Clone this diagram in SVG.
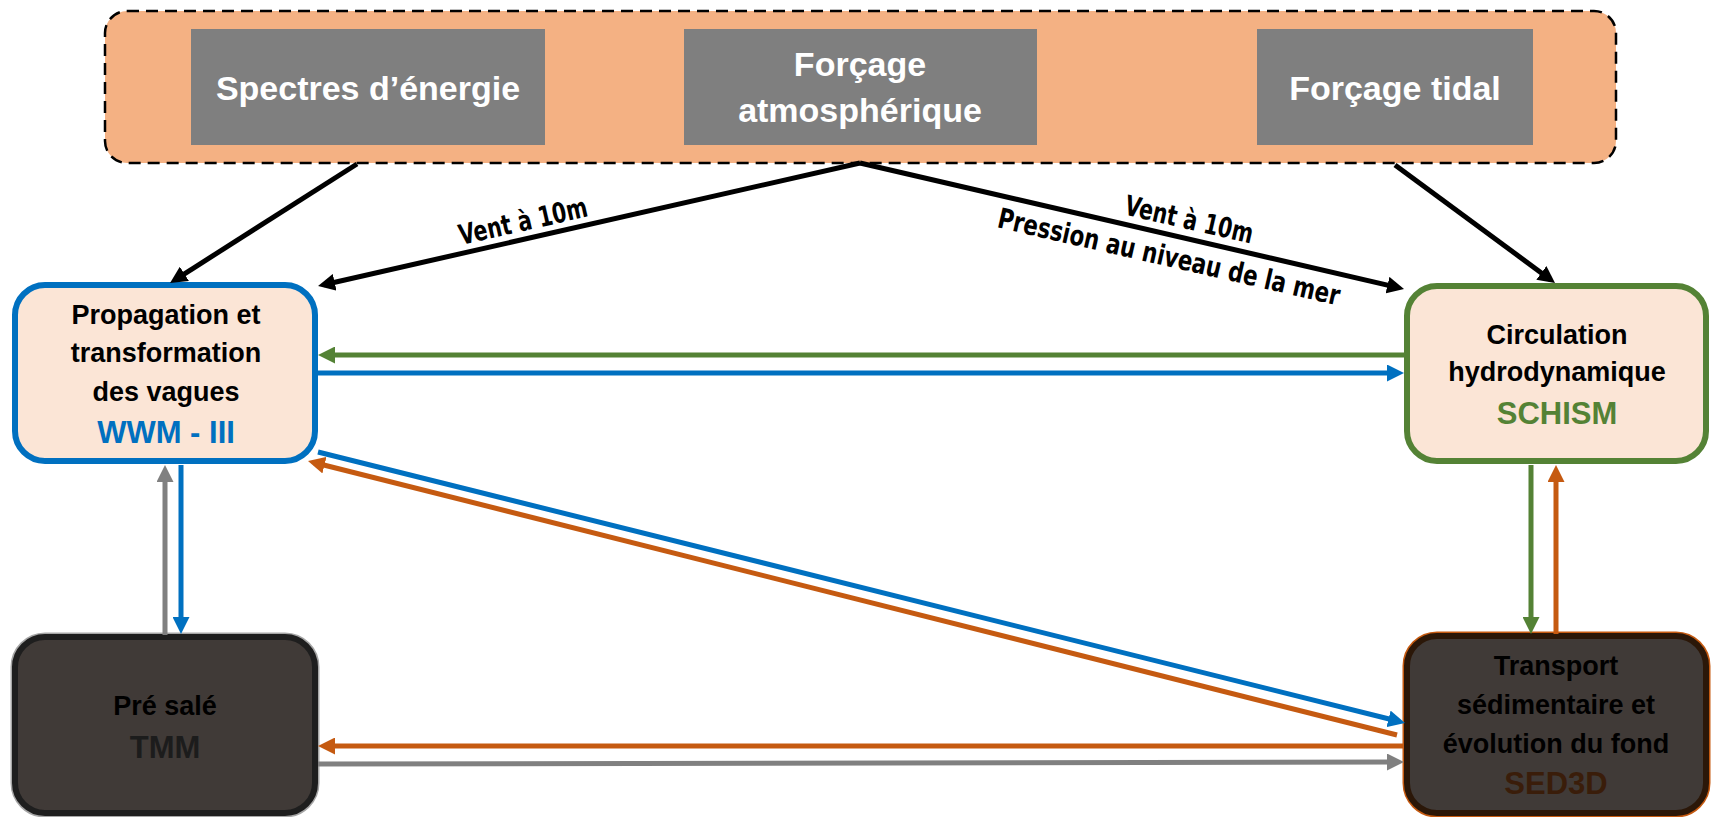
<svg xmlns="http://www.w3.org/2000/svg" width="1715" height="817" viewBox="0 0 1715 817">
<style>
.src{fill:#7F7F7F}
.srct{font-family:"Liberation Sans",Arial,sans-serif;font-weight:bold;font-size:34px;fill:#FFFFFF;text-anchor:middle}
.nt{font-family:"Liberation Sans",Arial,sans-serif;font-weight:bold;font-size:27px;fill:#000;text-anchor:middle}
.mt{font-family:"Liberation Sans",Arial,sans-serif;font-weight:bold;font-size:31px;text-anchor:middle}
.lbl{font-family:"DejaVu Sans Condensed","DejaVu Sans",sans-serif;font-stretch:condensed;font-weight:bold;font-size:28px;fill:#000;text-anchor:middle}
.k{stroke:#000;stroke-width:5;fill:none}
.b{stroke:#0070C0;stroke-width:5;fill:none}
.g{stroke:#548235;stroke-width:5;fill:none}
.o{stroke:#C55A11;stroke-width:5;fill:none}
.y{stroke:#808080;stroke-width:5;fill:none}
</style>
<defs>
<marker id="ak" markerUnits="userSpaceOnUse" markerWidth="17" markerHeight="17" refX="11" refY="8.5" orient="auto"><path d="M0,0 L17,8.5 L0,17 z" fill="#000"/></marker>
<marker id="ab" markerUnits="userSpaceOnUse" markerWidth="17" markerHeight="17" refX="11" refY="8.5" orient="auto"><path d="M0,0 L17,8.5 L0,17 z" fill="#0070C0"/></marker>
<marker id="ag" markerUnits="userSpaceOnUse" markerWidth="17" markerHeight="17" refX="11" refY="8.5" orient="auto"><path d="M0,0 L17,8.5 L0,17 z" fill="#548235"/></marker>
<marker id="ao" markerUnits="userSpaceOnUse" markerWidth="17" markerHeight="17" refX="11" refY="8.5" orient="auto"><path d="M0,0 L17,8.5 L0,17 z" fill="#C55A11"/></marker>
<marker id="ay" markerUnits="userSpaceOnUse" markerWidth="17" markerHeight="17" refX="11" refY="8.5" orient="auto"><path d="M0,0 L17,8.5 L0,17 z" fill="#808080"/></marker>
</defs>
<rect width="1715" height="817" fill="#FFFFFF"/>

<g id="forcages">
<rect x="105" y="11" width="1511" height="152" rx="22" fill="#F4B183" stroke="#000" stroke-width="2.5" stroke-dasharray="12 7"/>
</g>
<g id="spectres">
<rect class="src" x="191" y="29" width="354" height="116"/>
<text class="srct" x="368" y="100">Spectres d’énergie</text>
</g>
<g id="atmos">
<rect class="src" x="684" y="29" width="353" height="116"/>
<text class="srct" x="860" y="76">Forçage</text>
<text class="srct" x="860" y="122">atmosphérique</text>
</g>
<g id="tidal">
<rect class="src" x="1257" y="29" width="276" height="116"/>
<text class="srct" x="1395" y="100">Forçage tidal</text>
</g>

<g id="wwm">
<rect x="15" y="285" width="300" height="176" rx="30" fill="#FBE5D6" stroke="#0070C0" stroke-width="6"/>
<text class="nt" x="166" y="324">Propagation et</text>
<text class="nt" x="166" y="362">transformation</text>
<text class="nt" x="166" y="401">des vagues</text>
<text class="mt" x="166" y="443" fill="#0070C0">WWM - III</text>
</g>
<g id="schism">
<rect x="1407" y="286" width="299" height="175" rx="30" fill="#FBE5D6" stroke="#548235" stroke-width="6"/>
<text class="nt" x="1557" y="344">Circulation</text>
<text class="nt" x="1557" y="381">hydrodynamique</text>
<text class="mt" x="1557" y="424" fill="#548235">SCHISM</text>
</g>
<g id="tmm">
<rect x="15" y="637" width="300" height="176" rx="30" fill="#403A37" stroke="#A6A6A6" stroke-width="9"/>
<rect x="15" y="637" width="300" height="176" rx="30" fill="#403A37" stroke="#1E1E1E" stroke-width="6"/>
<text class="nt" x="165" y="715">Pré salé</text>
<text class="mt" x="165" y="758" fill="#1C1C1C">TMM</text>
</g>
<g id="sed3d">
<rect x="1407" y="636" width="299" height="177" rx="30" fill="#403A37" stroke="#C55A11" stroke-width="9"/>
<rect x="1407" y="636" width="299" height="177" rx="30" fill="#403A37" stroke="#2B1708" stroke-width="6"/>
<text class="nt" x="1556" y="675">Transport</text>
<text class="nt" x="1556" y="714">sédimentaire et</text>
<text class="nt" x="1556" y="753">évolution du fond</text>
<text class="mt" x="1556" y="794" fill="#3A1D0A">SED3D</text>
</g>

<g id="connectors">
<line class="k" x1="357" y1="164" x2="175.1" y2="279.8" marker-end="url(#ak)"/>
<line class="k" x1="860" y1="163" x2="323.9" y2="284.7" marker-end="url(#ak)"/>
<line class="k" x1="860" y1="163" x2="1398.2" y2="287.6" marker-end="url(#ak)"/>
<line class="k" x1="1395" y1="165" x2="1550.2" y2="279.4" marker-end="url(#ak)"/>
<line class="g" x1="1404" y1="355" x2="324" y2="355" marker-end="url(#ag)"/>
<line class="b" x1="318" y1="373" x2="1398" y2="373" marker-end="url(#ab)"/>
<line class="b" x1="318" y1="452" x2="1399.2" y2="721.5" marker-end="url(#ab)"/>
<line class="o" x1="1397" y1="735" x2="313.8" y2="462.5" marker-end="url(#ao)"/>
<line class="o" x1="1404" y1="746" x2="324" y2="746" marker-end="url(#ao)"/>
<line class="y" x1="318" y1="764" x2="1398" y2="762" marker-end="url(#ay)"/>
<line class="y" x1="165" y1="635" x2="165" y2="471" marker-end="url(#ay)"/>
<line class="b" x1="181" y1="465" x2="181" y2="628" marker-end="url(#ab)"/>
<line class="g" x1="1531" y1="465" x2="1531" y2="628" marker-end="url(#ag)"/>
<line class="o" x1="1556" y1="634" x2="1556" y2="471" marker-end="url(#ao)"/>
<text class="lbl" transform="translate(527,238.4) rotate(-12.8)" y="-8" textLength="131" lengthAdjust="spacingAndGlyphs">Vent à 10m</text>
<text class="lbl" transform="translate(1185,237.7) rotate(12.9)" y="-9" textLength="131" lengthAdjust="spacingAndGlyphs">Vent à 10m</text>
<text class="lbl" transform="translate(1174,235) rotate(12.9)" y="32" textLength="350" lengthAdjust="spacingAndGlyphs">Pression au niveau de la mer</text>
</g>
</svg>
